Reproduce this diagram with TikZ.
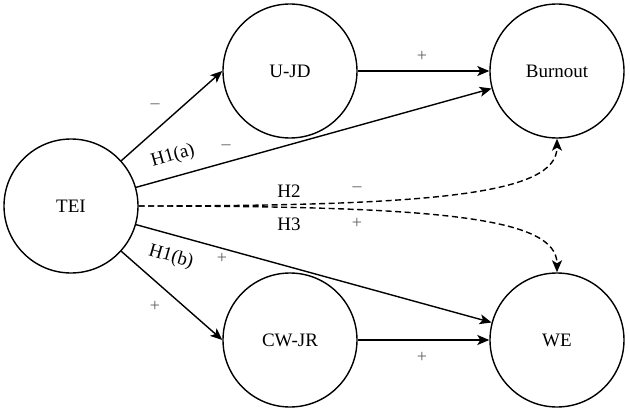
\documentclass[tikz,border=0pt]{standalone}
\usepackage{fontspec}
\setmainfont{Liberation Serif}
\usetikzlibrary{arrows.meta}
\definecolor{lblgray}{RGB}{95,95,95}
\tikzset{
  var/.style={circle, draw=black, line width=1.4pt, minimum size=134pt, inner sep=0pt, font=\fontsize{19}{21}\selectfont},
  arr/.style={line width=1.4pt, -{Stealth[length=12pt,width=10pt,inset=3pt]}},
  darr/.style={arr, dash pattern=on 6pt off 3.5pt},
  hlab/.style={font=\fontsize{19}{21}\selectfont, inner sep=0pt},
  sign/.style={font=\fontsize{18}{20}\selectfont, text=lblgray, inner sep=0pt}
}
\begin{document}
\begin{tikzpicture}[x=1pt,y=-1pt]
\useasboundingbox (0,0) rectangle (630,412);
\node[var] (TEI) at (71,206) {TEI};
\node[var] (UJD) at (290,71) {U-JD};
\node[var] (BO) at (557,71) {Burnout};
\node[var] (CW) at (290,340) {CW-JR};
\node[var] (WE) at (557,340) {WE};

\draw[arr] (TEI.42) -- (UJD.west);
\draw[arr] (UJD.east) -- (BO.west);
\draw[arr] (TEI.16) -- (BO.195);
\draw[arr] (TEI.-16) -- (WE.165);
\draw[arr] (TEI.-42) -- (CW.west);
\draw[arr] (CW.east) -- (WE.west);
\draw[darr] (TEI.east) .. controls +(300,0) and +(0,55) .. (BO.south);
\draw[darr] (TEI.east) .. controls +(300,0) and +(0,-55) .. (WE.north);

\node[sign] (s1) at (155,106) {–};
\node[hlab, rotate=16] (h1a) at (173,156) {H1(a)};
\node[sign] (s2) at (226,147) {–};
\node[sign] (s3) at (422,56) {+};
\node[hlab] (h2) at (289,191) {H2};
\node[sign] (s4) at (357,189) {–};
\node[hlab] (h3) at (289,224) {H3};
\node[sign] (s5) at (357,223) {+};
\node[hlab, rotate=-16] (h1b) at (171,257) {H1(b)};
\node[sign] (s6) at (222,258) {+};
\node[sign] (s7) at (155,306) {+};
\node[sign] (s8) at (422,357) {+};
\end{tikzpicture}
\end{document}
